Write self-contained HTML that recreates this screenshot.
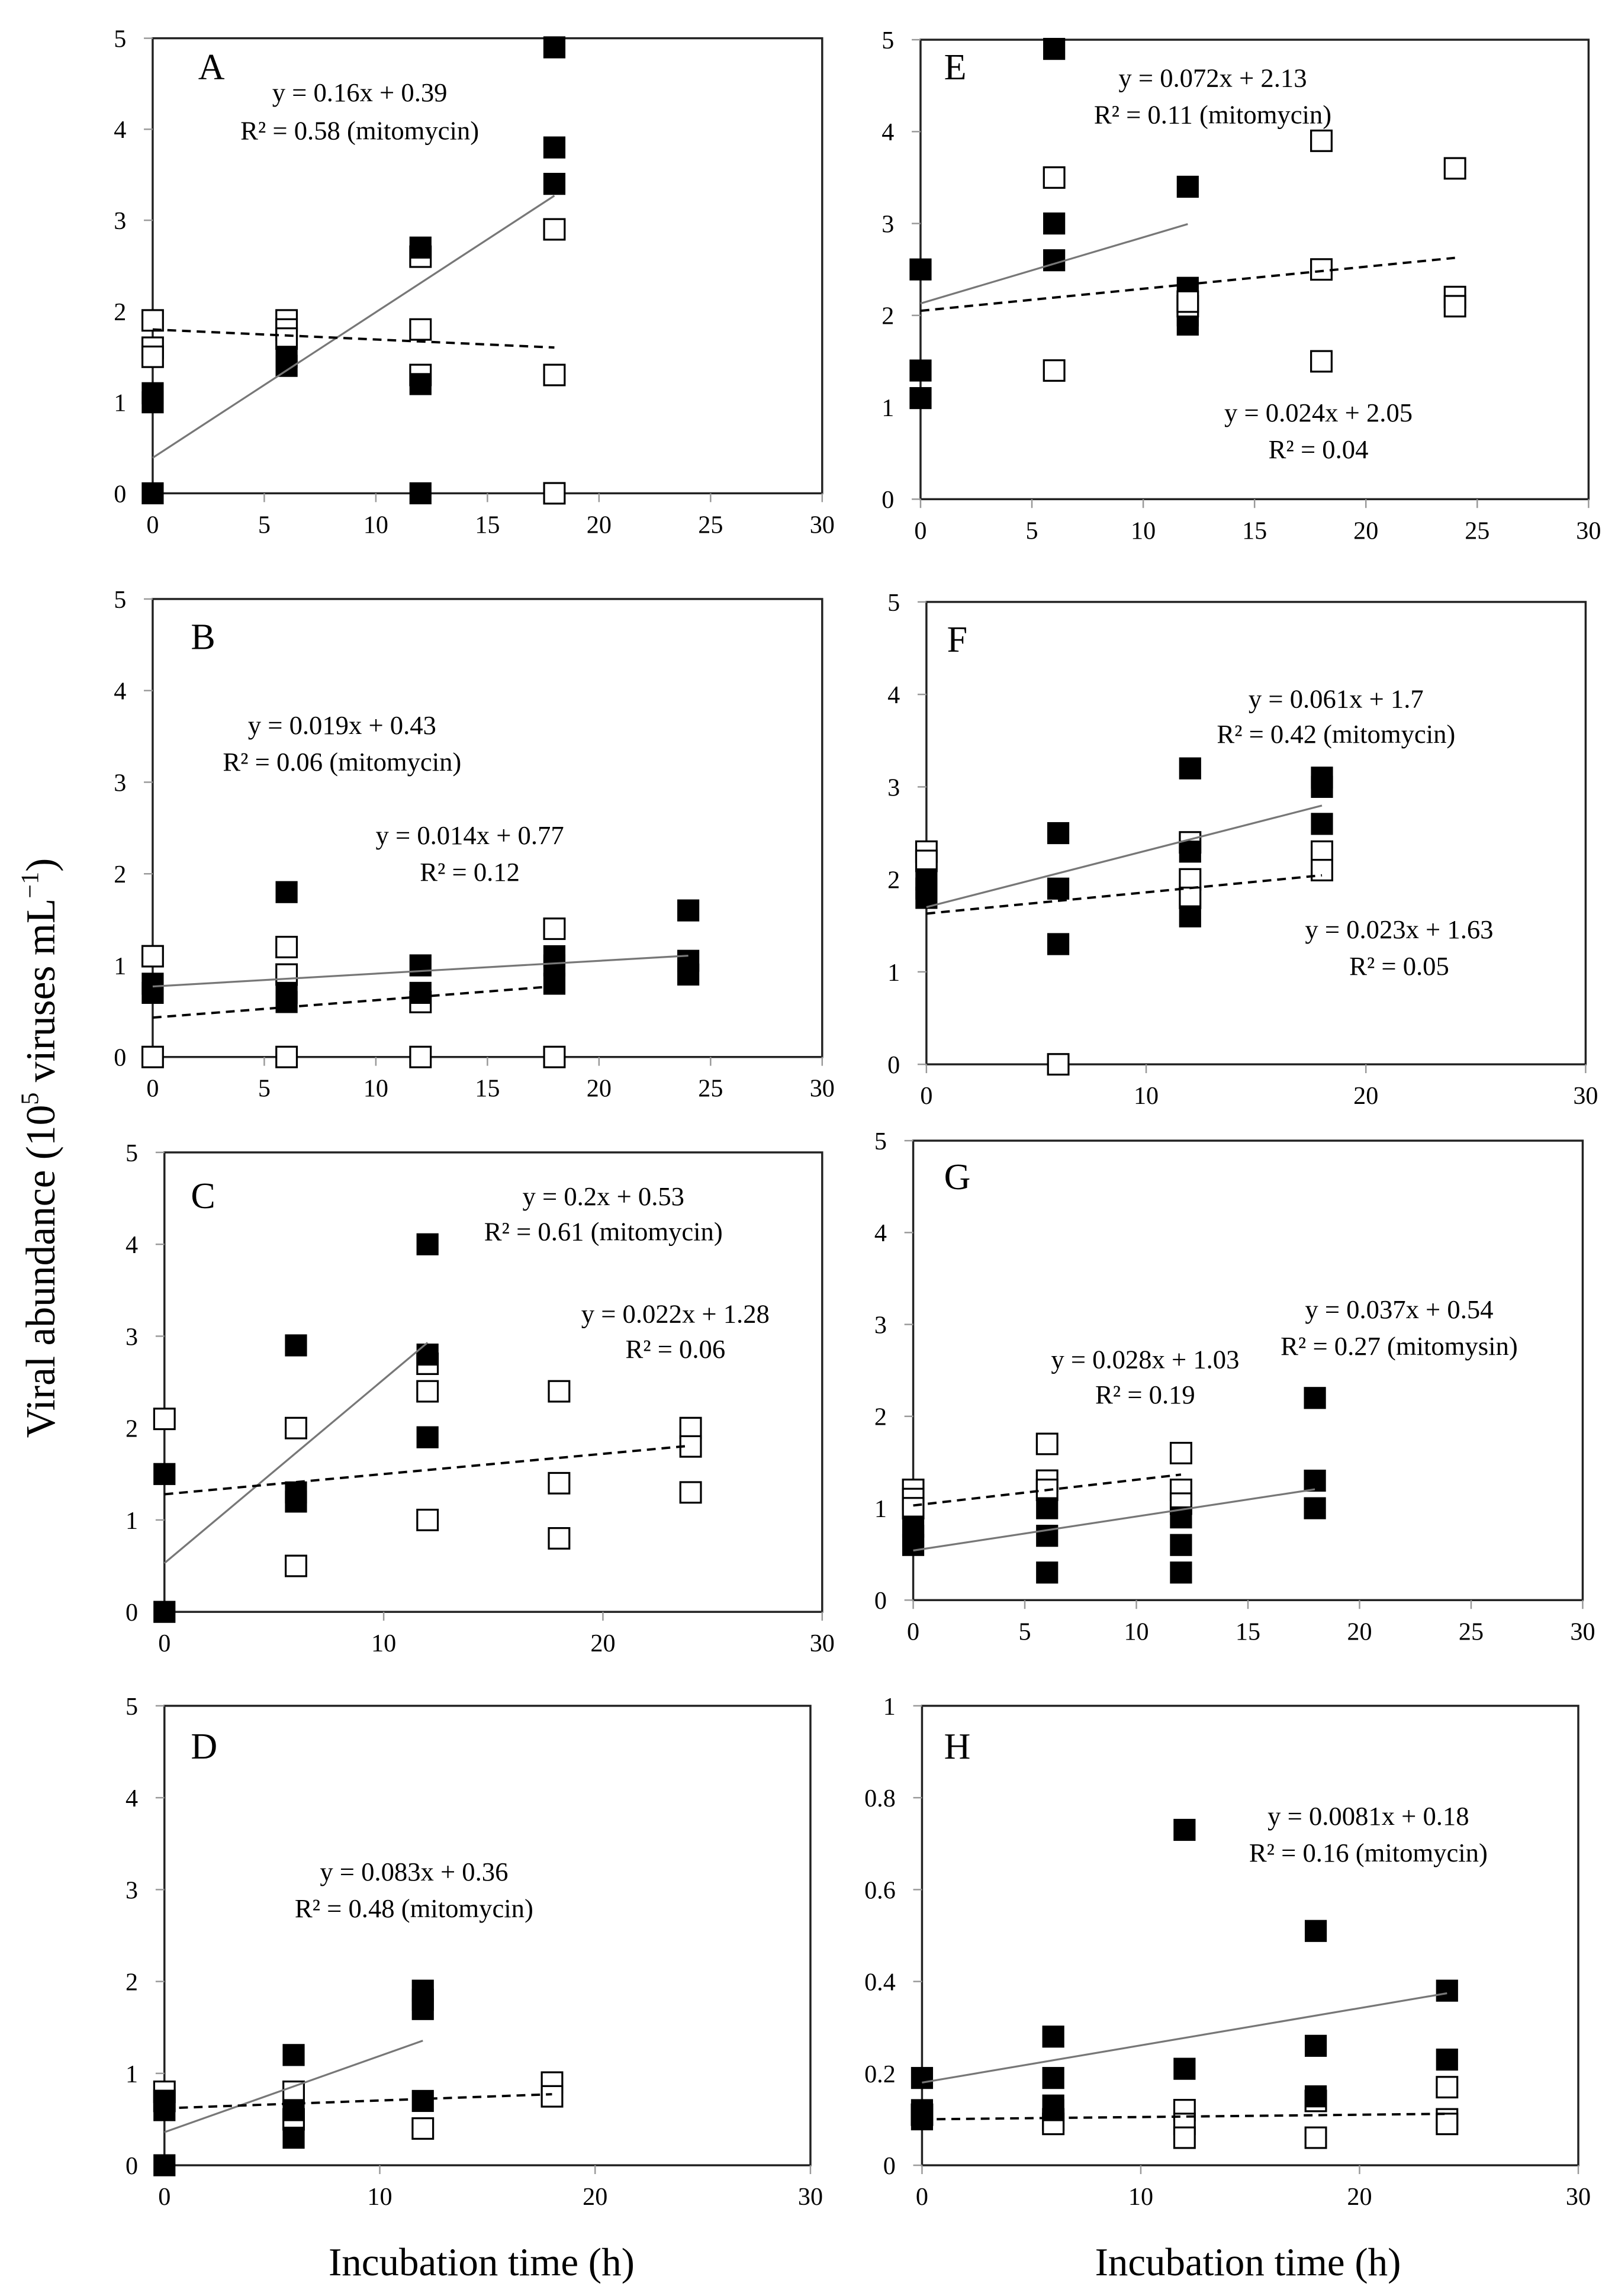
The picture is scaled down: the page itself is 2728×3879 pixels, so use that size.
<!DOCTYPE html>
<html><head><meta charset="utf-8"><style>
html,body{margin:0;padding:0;background:#fff;}
svg{display:block;font-family:"Liberation Serif",serif;}
</style></head><body>
<svg id="fig" width="2728" height="3879" viewBox="0 0 1100 1564" xmlns="http://www.w3.org/2000/svg">
<rect x="0" y="0" width="1100" height="1564" fill="#fff"/>
<text transform="translate(37,782) rotate(-90)" text-anchor="middle" font-size="28">Viral abundance (10<tspan font-size="17" dy="-11">5</tspan><tspan dy="11"> viruses mL</tspan><tspan font-size="17" dy="-11">−1</tspan><tspan dy="11">)</tspan></text>
<text x="328" y="1550" text-anchor="middle" font-size="27">Incubation time (h)</text>
<text x="850" y="1550" text-anchor="middle" font-size="27">Incubation time (h)</text>
</svg>
<script>
// panel A
const aFilledX=[0,0,0,6,6,12,12,12,18,18,18];
const aFilledY=[0,1.0,1.1,1.4,1.5,0,1.2,2.7,3.4,3.8,4.9];
const aOpenX=[0,0,0,6,6,6,12,12,12,18,18,18];
const aOpenY=[1.9,1.6,1.5,1.9,1.8,1.7,2.6,1.8,1.3,2.9,1.3,0];
// panel B
const bFilledX=[0,0,6,6,6,12,12,18,18,18,24,24,24];
const bFilledY=[0.7,0.8,1.8,0.6,0.7,1.0,0.7,0.8,1.0,1.1,1.6,0.9,1.05];
const bOpenX=[0,0,6,6,6,12,12,18,18];
const bOpenY=[1.1,0,1.2,0.9,0,0.6,0,1.4,0];
// panel C
const cFilledX=[0,0,6,6,6,12,12,12];
const cFilledY=[1.5,0,2.9,1.3,1.2,4.0,2.8,1.9];
const cOpenX=[0,6,6,12,12,12,18,18,18,24,24,24];
const cOpenY=[2.1,2.0,0.5,2.7,2.4,1.0,2.4,1.4,0.8,2.0,1.8,1.3];
// panel D
const dFilledX=[0,0,0,6,6,6,12,12,12,12];
const dFilledY=[0,0.6,0.7,1.2,0.6,0.3,1.9,1.8,1.7,0.7];
const dOpenX=[0,0,6,6,12,18,18];
const dOpenY=[0.8,0.7,0.8,0.5,0.4,0.9,0.75];
// panel E
const eFilledX=[0,0,0,6,6,6,12,12,12,12];
const eFilledY=[2.5,1.4,1.1,4.9,3.0,2.6,3.4,2.3,1.9,2.0];
const eOpenX=[6,6,12,12,18,18,18,24,24,24];
const eOpenY=[3.5,1.4,2.1,2.15,3.9,2.5,1.5,3.6,2.2,2.1];
// panel F
const fFilledX=[0,0,0,6,6,6,12,12,12,18,18,18];
const fFilledY=[1.8,1.9,2.0,2.5,1.9,1.3,3.2,2.3,1.6,3.1,3.0,2.6];
const fOpenX=[0,0,6,12,12,12,18,18];
const fOpenY=[2.3,2.2,0,2.4,2.0,1.8,2.3,2.1];
// panel G
const gFilledX=[0,0,0,6,6,6,12,12,12,18,18,18];
const gFilledY=[0.6,0.7,0.8,1.0,0.7,0.3,0.9,0.6,0.3,2.2,1.3,1.0];
const gOpenX=[0,0,0,6,6,6,12,12,12];
const gOpenY=[1.2,1.1,1.0,1.7,1.3,1.2,1.6,1.2,1.05];
// panel H
const hFilledX=[0,0,0,6,6,6,6,12,12,18,18,18,24,24];
const hFilledY=[0.19,0.12,0.1,0.28,0.19,0.13,0.12,0.73,0.21,0.51,0.26,0.15,0.38,0.23];
const hOpenX=[0,6,6,12,12,12,18,18,24,24,24];
const hOpenY=[0.11,0.1,0.09,0.12,0.09,0.06,0.06,0.14,0.17,0.1,0.09];
// trend lines: [slope, intercept, xEnd]
const aSolid=[0.16,0.39,18], aDashed=[-0.011,1.8,18];
const bSolid=[0.014,0.77,24], bDashed=[0.019,0.43,18];
const cSolid=[0.2,0.53,12], cDashed=[0.022,1.28,24];
const dSolid=[0.083,0.36,12], dDashed=[0.0085,0.62,18];
const eSolid=[0.072,2.13,12], eDashed=[0.024,2.05,24];
const fSolid=[0.061,1.7,18], fDashed=[0.023,1.63,18];
const gSolid=[0.037,0.54,18], gDashed=[0.028,1.03,12];
const hSolid=[0.0081,0.18,24], hDashed=[0.0005,0.1,24];
const xTicksA=[0,5,10,15,20,25,30];
const xTicksB=[0,10,20,30];
const yTicks5=[0,1,2,3,4,5];
const yTicksH=[0,0.2,0.4,0.6,0.8,1];
const yTickLabelsH=['0','0.2','0.4','0.6','0.8','1'];

const NS='http://www.w3.org/2000/svg';
const svg=document.getElementById('fig');
function mk(tag,attrs,parent){const e=document.createElementNS(NS,tag);for(const k in attrs)e.setAttribute(k,attrs[k]);(parent||svg).appendChild(e);return e;}

const panels=[
 {id:'a',L:'A',x0:104,x1:560,y0:336,y1:26,ymax:5,xt:xTicksA,yt:yTicks5,fx:aFilledX,fy:aFilledY,ox:aOpenX,oy:aOpenY,s:aSolid,d:aDashed,openFirst:true,
  txt:[['A',135,54,25,'start'],['y = 0.16x + 0.39',245,69],['R² = 0.58 (mitomycin)',245,95]]},
 {id:'e',L:'E',x0:627,x1:1082,y0:340,y1:27,ymax:5,xt:xTicksA,yt:yTicks5,fx:eFilledX,fy:eFilledY,ox:eOpenX,oy:eOpenY,s:eSolid,d:eDashed,openFirst:false,
  txt:[['E',643,54,25,'start'],['y = 0.072x + 2.13',826,59],['R² = 0.11 (mitomycin)',826,84],['y = 0.024x + 2.05',898,287],['R² = 0.04',898,312]]},
 {id:'b',L:'B',x0:104,x1:560,y0:720,y1:408,ymax:5,xt:xTicksA,yt:yTicks5,fx:bFilledX,fy:bFilledY,ox:bOpenX,oy:bOpenY,s:bSolid,d:bDashed,openFirst:true,
  txt:[['B',130,442,25,'start'],['y = 0.019x + 0.43',233,500],['R² = 0.06 (mitomycin)',233,525],['y = 0.014x + 0.77',320,575],['R² = 0.12',320,600]]},
 {id:'f',L:'F',x0:631,x1:1080,y0:725,y1:410,ymax:5,xt:xTicksB,yt:yTicks5,fx:fFilledX,fy:fFilledY,ox:fOpenX,oy:fOpenY,s:fSolid,d:fDashed,openFirst:true,
  txt:[['F',645,444,25,'start'],['y = 0.061x + 1.7',910,482],['R² = 0.42 (mitomycin)',910,506],['y = 0.023x + 1.63',953,639],['R² = 0.05',953,664]]},
 {id:'c',L:'C',x0:112,x1:560,y0:1098,y1:785,ymax:5,xt:xTicksB,yt:yTicks5,fx:cFilledX,fy:cFilledY,ox:cOpenX,oy:cOpenY,s:cSolid,d:cDashed,openFirst:true,
  txt:[['C',130,823,25,'start'],['y = 0.2x + 0.53',411,821],['R² = 0.61 (mitomycin)',411,845],['y = 0.022x + 1.28',460,901],['R² = 0.06',460,925]]},
 {id:'g',L:'G',x0:622,x1:1078,y0:1090,y1:777,ymax:5,xt:xTicksA,yt:yTicks5,fx:gFilledX,fy:gFilledY,ox:gOpenX,oy:gOpenY,s:gSolid,d:gDashed,openFirst:true,
  txt:[['G',643,810,25,'start'],['y = 0.037x + 0.54',953,898],['R² = 0.27 (mitomysin)',953,923],['y = 0.028x + 1.03',780,932],['R² = 0.19',780,956]]},
 {id:'d',L:'D',x0:112,x1:552,y0:1475,y1:1162,ymax:5,xt:xTicksB,yt:yTicks5,fx:dFilledX,fy:dFilledY,ox:dOpenX,oy:dOpenY,s:dSolid,d:dDashed,openFirst:true,
  txt:[['D',130,1198,25,'start'],['y = 0.083x + 0.36',282,1281],['R² = 0.48 (mitomycin)',282,1306]]},
 {id:'h',L:'H',x0:628,x1:1075,y0:1475,y1:1162,ymax:1,xt:xTicksB,yt:yTicksH,ytl:yTickLabelsH,fx:hFilledX,fy:hFilledY,ox:hOpenX,oy:hOpenY,s:hSolid,d:hDashed,openFirst:true,
  txt:[['H',643,1198,25,'start'],['y = 0.0081x + 0.18',932,1243],['R² = 0.16 (mitomycin)',932,1268]]}
];

panels.forEach(p=>{
  const g=mk('g',{});
  
  
  const X=v=>p.x0+(p.x1-p.x0)*v/30;
  const Y=v=>p.y0-(p.y0-p.y1)*v/p.ymax;
  const box=mk('rect',{x:p.x0,y:p.y1,width:p.x1-p.x0,height:p.y0-p.y1,fill:'none',stroke:'#222','stroke-width':1.4},g);
  
  
  p.yt.forEach((v,i)=>{
    mk('line',{x1:p.x0-6,x2:p.x0,y1:Y(v),y2:Y(v),stroke:'#999','stroke-width':1},g);
    const t=mk('text',{x:p.x0-18,y:Y(v)+6,'text-anchor':'end','font-size':17},g);
    t.textContent=p.ytl?p.ytl[i]:String(v);
    
    
  });
  p.xt.forEach(v=>{
    mk('line',{x1:X(v),x2:X(v),y1:p.y0,y2:p.y0+6,stroke:'#999','stroke-width':1},g);
    const t=mk('text',{x:X(v),y:p.y0+27,'text-anchor':'middle','font-size':17},g);
    t.textContent=String(v);
    
    
  });
  const sz=14;
  const drawF=()=>p.fx.forEach((x,i)=>{
    const r=mk('rect',{x:X(x)-sz/2,y:Y(p.fy[i])-sz/2,width:sz,height:sz,fill:'#000',stroke:'#000','stroke-width':1},g);
    
    
  });
  const drawO=()=>p.ox.forEach((x,i)=>{
    const r=mk('rect',{x:X(x)-sz/2,y:Y(p.oy[i])-sz/2,width:sz,height:sz,fill:'#fff',stroke:'#000','stroke-width':1.3},g);
    
    
  });
  if(p.openFirst){drawO();drawF();}else{drawF();drawO();}
  const sl=mk('line',{x1:X(0),y1:Y(p.s[1]),x2:X(p.s[2]),y2:Y(p.s[0]*p.s[2]+p.s[1]),stroke:'#777','stroke-width':1.3},g);
  
  
  const dl=mk('line',{x1:X(0),y1:Y(p.d[1]),x2:X(p.d[2]),y2:Y(p.d[0]*p.d[2]+p.d[1]),stroke:'#000','stroke-width':1.6,'stroke-dasharray':'6,4'},g);
  
  
  p.txt.forEach((t,i)=>{
    const e=mk('text',{x:t[1],y:t[2],'text-anchor':t[4]||'middle','font-size':t[3]||18},g);
    e.textContent=t[0];
    
    
  });
});
</script>
</body></html>
